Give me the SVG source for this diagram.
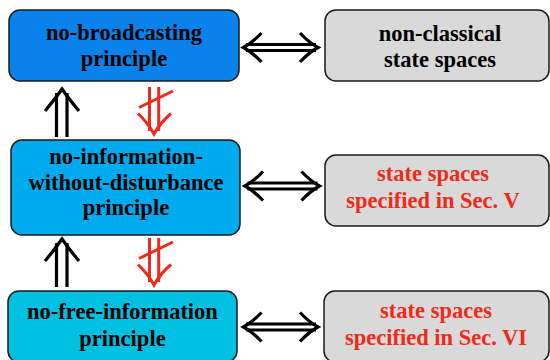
<svg xmlns="http://www.w3.org/2000/svg" width="550" height="360" viewBox="0 0 550 360">
<defs>
<style>
.box{stroke:#1a1a1a;stroke-width:1.5}
.b1{fill:#0a82ec}
.b2{fill:#00aaee}
.b3{fill:#00c0e2}
.g{fill:#d9d9d9}
text{font-family:"Liberation Serif","Times New Roman",serif;font-weight:bold;font-size:22.5px;text-anchor:middle}
.k{fill:#000}
.r{fill:#ee2a1a}
.arr{fill:none;stroke:#000;stroke-width:3.2}
.rarr{fill:none;stroke:#ee2a1a;stroke-width:3}
</style>
<g id="harrow">
<path class="arr" d="M246,44.5 H316 M246,50.5 H316"/>
<path class="arr" d="M261.5,33 Q252,43 243.5,47.5 Q252,52 261.5,62"/>
<path class="arr" d="M300,33 Q309.5,43 318,47.5 Q309.5,52 300,62"/>
</g>
<g id="uarrow">
<path class="arr" d="M56.5,93 V137 M67,93 V137"/>
<path class="arr" d="M45,111 Q55,99 62,89 Q69,99 79,111"/>
</g>
<g id="narrow">
<path class="rarr" d="M149.5,87 V131 M158.7,87 V131"/>
<path class="rarr" d="M138,113.5 Q148,123 154,134 Q160,123 171,113.5"/>
<path class="rarr" d="M139,107.5 L173,91"/>
</g>
</defs>
<g id="node-broadcasting">
<rect class="box b1" x="9" y="10" width="230" height="71" rx="11"/>
<text class="k" x="124" y="40">no-broadcasting</text>
<text class="k" x="124" y="66">principle</text>
</g>
<g id="node-nonclassical">
<rect class="box g" x="325" y="10" width="224" height="71" rx="11"/>
<text class="k" x="440" y="41">non-classical</text>
<text class="k" x="440" y="67">state spaces</text>
</g>
<g id="node-niwd">
<rect class="box b2" x="11" y="140" width="229" height="95" rx="11"/>
<text class="k" x="126" y="164">no-information-</text>
<text class="k" x="126" y="190">without-disturbance</text>
<text class="k" x="126" y="215">principle</text>
</g>
<g id="node-secV">
<rect class="box g" x="325" y="155" width="224" height="71" rx="11"/>
<text class="r" x="433" y="181">state spaces</text>
<text class="r" x="433" y="208">specified in Sec. V</text>
</g>
<g id="node-nofree">
<rect class="box b3" x="8" y="291" width="229" height="71" rx="11"/>
<text class="k" x="122.5" y="319">no-free-information</text>
<text class="k" x="122.5" y="346">principle</text>
</g>
<g id="node-secVI">
<rect class="box g" x="324" y="291" width="225" height="71" rx="11"/>
<text class="r" x="436" y="318">state spaces</text>
<text class="r" x="436" y="345">specified in Sec. VI</text>
</g>
<g id="connectors">
<use href="#harrow"/>
<use href="#harrow" transform="translate(1.5,138.5)"/>
<use href="#harrow" transform="translate(0,279.5)"/>
<use href="#uarrow"/>
<use href="#uarrow" transform="translate(0,150)"/>
<use href="#narrow"/>
<use href="#narrow" transform="translate(0,151)"/>
</g>
</svg>
